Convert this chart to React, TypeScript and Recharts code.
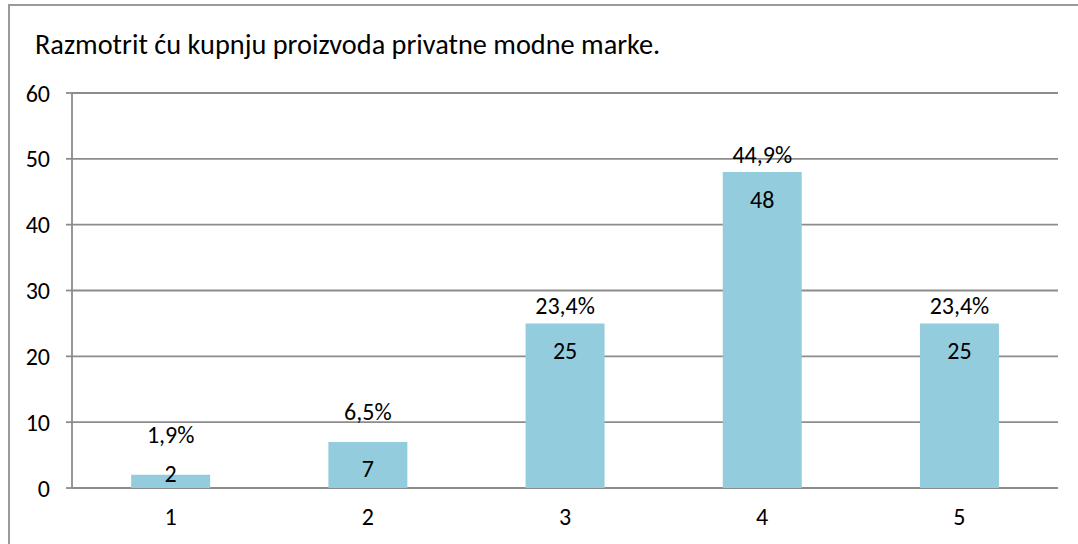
import { BarChart, Bar, XAxis, YAxis, CartesianGrid, LabelList } from "recharts";

// chart data
const categories = ["1", "2", "3", "4", "5"];
const counts = [2, 7, 25, 48, 25];
const percents = ["1,9%", "6,5%", "23,4%", "44,9%", "23,4%"];
const yTicks = [0, 10, 20, 30, 40, 50, 60];
const boundaryTicks = [0, 1, 2, 3, 4, 5];

const title = "Razmotrit ću kupnju proizvoda privatne modne marke.";

const chartData = categories.map((name, i) => ({
    name,
    value: counts[i],
    pct: percents[i],
}));

const FONT = "Carlito, Lato, sans-serif";
const GRID = "#8c8c8c";

/**
 * Draws the count inside the bar and the percentage above it
 */
function BarLabels(props: any) {
    const { x, y, width, height, value, index } = props;
    const cx = x + width / 2;
    const bottom = y + height;
    const valueY = Math.min(y + 27, bottom - 15);
    // short bars get their percentage lifted a bit higher
    const pctY = y - Math.max(18, 44 - 0.3 * height);
    return (
        <g fontFamily={FONT} fontSize={24} fill="#000">
            <text x={cx} y={valueY} textAnchor="middle" dominantBaseline="central">
                {value}
            </text>
            <text x={cx} y={pctY} textAnchor="middle" dominantBaseline="central">
                {percents[index]}
            </text>
        </g>
    );
}

function App() {
    return (
        <div
            style={{
                position: "absolute",
                left: 8,
                top: 4,
                width: 1080,
                height: 545,
                border: "2px solid #9a9a9a",
                boxSizing: "border-box",
                background: "#fff",
            }}
        >
            <div
                style={{
                    position: "absolute",
                    left: 25,
                    top: 25,
                    fontFamily: FONT,
                    fontSize: 28.3,
                    lineHeight: 1,
                    color: "#000",
                    whiteSpace: "nowrap",
                }}
            >
                {title}
            </div>
            <div style={{ position: "absolute", left: 0, top: 0 }}>
                <BarChart
                    width={1066}
                    height={536}
                    data={chartData}
                    margin={{ top: 87, right: 18, bottom: 24, left: 0 }}
                    barCategoryGap="30%"
                >
                    <CartesianGrid vertical={false} stroke={GRID} strokeWidth={1.8} />
                    <XAxis
                        dataKey="name"
                        xAxisId="cat"
                        height={30}
                        tickLine={false}
                        axisLine={false}
                        tickMargin={14}
                        tick={{ fill: "#000", fontSize: 24, fontFamily: FONT }}
                    />
                    <XAxis
                        xAxisId="edges"
                        type="number"
                        domain={[0, 5]}
                        ticks={boundaryTicks}
                        height={0}
                        tick={false}
                        tickSize={7}
                        stroke={GRID}
                        strokeWidth={1.8}
                    />
                    <YAxis
                        domain={[0, 60]}
                        ticks={yTicks}
                        width={62}
                        tickSize={6}
                        tickMargin={16}
                        stroke={GRID}
                        strokeWidth={1.8}
                        tick={{ fill: "#000", fontSize: 24, fontFamily: FONT }}
                    />
                    <Bar dataKey="value" xAxisId="cat" fill="#93cddd" isAnimationActive={false}>
                        <LabelList dataKey="value" content={BarLabels} />
                    </Bar>
                </BarChart>
            </div>
        </div>
    );
}

export default App;
